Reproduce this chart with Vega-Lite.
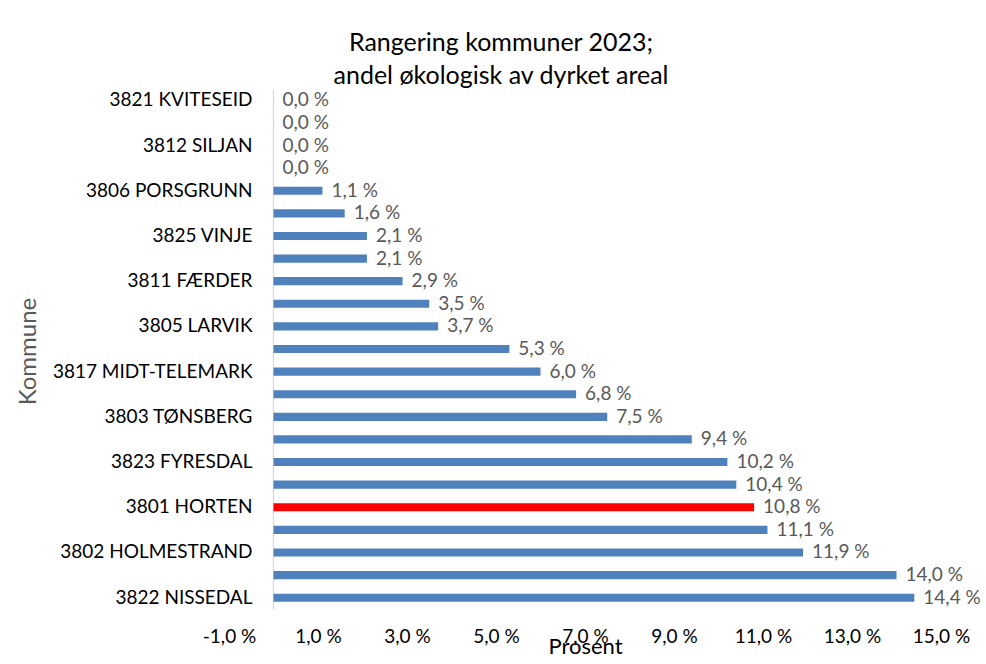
{
  "$schema": "https://vega.github.io/schema/vega-lite/v6.json",
  "autosize": "none",
  "width": 712,
  "height": 520,
  "padding": {"left": 229, "top": 89, "right": 45, "bottom": 55},
  "background": "white",
  "title": {
    "text": ["Rangering kommuner 2023;", "andel økologisk av dyrket areal"],
    "fontSize": 25,
    "font": "Lato",
    "fontWeight": "normal",
    "color": "#000000",
    "lineHeight": 33,
    "anchor": "middle",
    "frame": "group",
    "dx": -84,
    "offset": 0
  },
  "config": {
    "view": {"stroke": null},
    "font": "Lato"
  },
  "data": {
    "values": [
      {"kommune": "3821 KVITESEID", "andel": 0.0},
      {"kommune": "3813 BAMBLE", "andel": 0.0},
      {"kommune": "3812 SILJAN", "andel": 0.0},
      {"kommune": "3824 TOKKE", "andel": 0.0},
      {"kommune": "3806 PORSGRUNN", "andel": 1.1},
      {"kommune": "3814 KRAGERØ", "andel": 1.6},
      {"kommune": "3825 VINJE", "andel": 2.1},
      {"kommune": "3807 SKIEN", "andel": 2.1},
      {"kommune": "3811 FÆRDER", "andel": 2.9},
      {"kommune": "3815 DRANGEDAL", "andel": 3.5},
      {"kommune": "3805 LARVIK", "andel": 3.7},
      {"kommune": "3804 SANDEFJORD", "andel": 5.3},
      {"kommune": "3817 MIDT-TELEMARK", "andel": 6.0},
      {"kommune": "3808 NOTODDEN", "andel": 6.8},
      {"kommune": "3803 TØNSBERG", "andel": 7.5},
      {"kommune": "3818 TINN", "andel": 9.4},
      {"kommune": "3823 FYRESDAL", "andel": 10.2},
      {"kommune": "3816 NOME", "andel": 10.4},
      {"kommune": "3801 HORTEN", "andel": 10.8},
      {"kommune": "3820 SELJORD", "andel": 11.1},
      {"kommune": "3802 HOLMESTRAND", "andel": 11.9},
      {"kommune": "3819 HJARTDAL", "andel": 14.0},
      {"kommune": "3822 NISSEDAL", "andel": 14.4}
    ]
  },
  "transform": [
    {"calculate": "replace(format(datum.andel, '.1f'), '.', ',') + ' %'", "as": "etikett"}
  ],
  "encoding": {
    "y": {
      "field": "kommune",
      "type": "nominal",
      "sort": null,
      "scale": {"paddingInner": 0.64, "paddingOuter": 0.32},
      "axis": {
        "title": "Kommune",
        "values": ["3821 KVITESEID", "3812 SILJAN", "3806 PORSGRUNN", "3825 VINJE", "3811 FÆRDER", "3805 LARVIK", "3817 MIDT-TELEMARK", "3803 TØNSBERG", "3823 FYRESDAL", "3801 HORTEN", "3802 HOLMESTRAND", "3822 NISSEDAL"],
        "offset": -44,
        "ticks": false,
        "domain": true,
        "domainColor": "#D9D9D9",
        "domainWidth": 1.3,
        "labelPadding": 21,
        "labelFontSize": 19,
        "labelColor": "#000000",
        "labelFont": "Lato",
        "labelLimit": 300,
        "titleFontSize": 24,
        "titleFontWeight": "normal",
        "titleColor": "#595959",
        "titleFont": "Lato",
        "titleAngle": -90,
        "titleX": -245,
        "titleY": 262,
        "titleAlign": "center",
        "titleBaseline": "middle"
      }
    }
  },
  "layer": [
    {
      "mark": {"type": "bar"},
      "encoding": {
        "x": {
          "field": "andel",
          "type": "quantitative",
          "scale": {"domain": [-1, 15], "nice": false, "zero": false},
          "axis": {
            "title": "Prosent",
            "values": [-1, 1, 3, 5, 7, 9, 11, 13, 15],
            "labelExpr": "replace(replace(format(datum.value, '.1f'), '.', ','), '−', '-') + ' %'",
            "grid": false,
            "ticks": false,
            "domain": false,
            "labelPadding": 18,
            "labelFontSize": 19,
            "labelColor": "#000000",
            "labelFont": "Lato",
            "labelFlush": false,
            "titleFontSize": 22,
            "titleFontWeight": "normal",
            "titleColor": "#000000",
            "titleFont": "Lato",
            "titlePadding": -10
          }
        },
        "x2": {"datum": 0},
        "color": {
          "condition": {"test": "datum.kommune === '3801 HORTEN'", "value": "#FF0000"},
          "value": "#4F81BD"
        }
      }
    },
    {
      "mark": {"type": "text", "align": "left", "baseline": "middle", "dx": 9, "fontSize": 19, "color": "#595959", "font": "Lato"},
      "encoding": {
        "x": {"field": "andel", "type": "quantitative"},
        "text": {"field": "etikett"}
      }
    }
  ]
}
